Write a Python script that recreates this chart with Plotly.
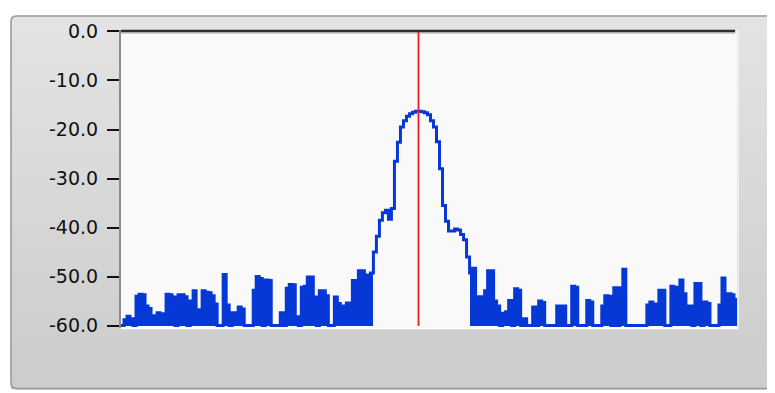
import numpy as np
import plotly.graph_objects as go

# ---- data (dB level per frequency bin) ----
level_db = [
    -60, -58.8, -58.1, -58.6, -60, -54.0, -53.6, -53.7, -56.0, -56.5,
    -58.3, -58.0, -57.4, -57.8, -57.6, -53.6, -53.7, -54.2, -60, -53.7,
    -53.7, -54.1, -60, -55.0, -52.9, -56.8, -57.3, -52.9, -53.2, -53.3,
    -53.9, -55.6, -60, -60, -49.6, -55.8, -60, -57.4, -57.6, -56.2,
    -56.6, -60, -60, -60, -52.8, -50.0, -50.4, -60, -50.7, -50.8,
    -60, -60, -60, -57.4, -60, -52.4, -51.6, -51.7, -58.2, -60,
    -52.2, -52.0, -50.1, -50.1, -54.2, -60, -52.9, -52.9, -53.9, -60,
    -60, -54.2, -55.5, -56.0, -56.3, -55.4, -55.4, -50.8, -52.9, -48.8,
    -48.8, -51.6, -49.7, -49.3, -45.0, -41.8, -38.5, -37.0, -36.5, -38.3,
    -36.1, -26.5, -22.6, -19.5, -18.2, -17.3, -16.8, -16.5, -16.3, -16.3,
    -16.4, -16.6, -17.0, -18.2, -19.5, -22.5, -28.0, -35.5, -38.7, -40.7,
    -40.7, -40.3, -40.5, -41.4, -42.5, -46.0, -49.3, -48.3, -55.5, -54.1,
    -54.1, -52.9, -48.8, -48.8, -55.0, -56.0, -60, -57.5, -57.2, -54.9,
    -60, -52.5, -52.8, -60, -58.6, -60, -60, -56.2, -60, -55.0,
    -55.3, -60, -60, -60, -60, -56.0, -60, -56.0, -60, -60,
    -52.0, -52.2, -60, -60, -60, -54.9, -55.2, -60, -60, -60,
    -56.0, -53.9, -54.0, -60, -52.3, -60, -52.3, -48.5, -60, -60,
    -60, -60, -60, -60, -60, -55.8, -55.2, -55.6, -56.0, -52.8,
    -52.8, -60, -60, -52.0, -52.2, -52.2, -50.7, -53.5, -56.0, -56.0,
    -60, -51.4, -51.4, -60, -55.2, -55.5, -60, -60, -60, -55.8,
    -50.3, -55.3, -53.5, -53.7, -54.7,
]
cursor_bin = 99.0                 # red cursor position (bin)
peak_first, peak_last = 84, 115   # bins of the main lobe (drawn as outline only)
y_ticks = [0, -10, -20, -30, -40, -50, -60]
y_tick_text = ["0.0", "-10.0", "-20.0", "-30.0", "-40.0", "-50.0", "-60.0"]
floor_db = -60

# ---- layout geometry (screen pixels; page body has an 8px margin) ----
OFF = 8
SW, SH = 775, 393
W, H = SW - OFF, SH - OFF
PLOT_L, PLOT_R, PLOT_T, PLOT_B = 121, 737, 21, 328   # screen px
L, T = PLOT_L - OFF, PLOT_T - OFF
R, B = W - (PLOT_R - OFF), H - (PLOT_B - OFF)
PW, PH = W - L - R, H - T - B


def px_x(px):
    return (px - OFF - L) / PW


def px_y(py):
    return (H - B - (py - OFF)) / PH


vals = np.array(level_db, dtype=float)
n = len(vals)
idx = np.arange(n)
is_peak = (idx >= peak_first) & (idx <= peak_last)
bar_h = np.where(is_peak, 0.0, vals - floor_db)

blue = "#0638d6"

fig = go.Figure()
fig.add_trace(go.Bar(
    x=idx + 0.5, y=bar_h, base=floor_db, width=1.0,
    marker=dict(color=blue, line=dict(width=0)),
    hoverinfo="skip", showlegend=False,
))
fig.add_trace(go.Scatter(
    x=np.arange(n + 1), y=np.append(vals, vals[-1]),
    mode="lines", line=dict(color=blue, width=3, shape="hv"),
    showlegend=False,
))

shapes = []
# panel gradient (bands)
top_c, bot_c = np.array([0xe3, 0xe3, 0xe3]), np.array([0xcd, 0xcd, 0xcd])
nb = 16
y_top, y_bot = 6, 391
for k in range(nb):
    c = top_c + (bot_c - top_c) * k / (nb - 1)
    col = "rgb(%d,%d,%d)" % tuple(c.astype(int))
    ya = y_top + (y_bot - y_top) * k / nb
    yb = y_top + (y_bot - y_top) * (k + 1) / nb + 1
    shapes.append(dict(type="rect", xref="paper", yref="paper",
                       x0=px_x(11), x1=px_x(790), y0=px_y(min(yb, y_bot)), y1=px_y(ya),
                       fillcolor=col, line=dict(width=0), layer="below"))
# panel border with rounded left corners
r = 6
x0, x1, ya, yb = 11, 790, 6.5, 390.5
path = (f"M {px_x(x1)} {px_y(ya)} L {px_x(x0 + r)} {px_y(ya)} "
        f"Q {px_x(x0)} {px_y(ya)} {px_x(x0)} {px_y(ya + r)} "
        f"L {px_x(x0)} {px_y(yb - r)} Q {px_x(x0)} {px_y(yb)} {px_x(x0 + r)} {px_y(yb)} "
        f"L {px_x(x1)} {px_y(yb)}")
shapes.append(dict(type="path", xref="paper", yref="paper", path=path,
                   line=dict(color="#9a9a9a", width=1.6), layer="below"))
# plot area background
shapes.append(dict(type="rect", xref="paper", yref="paper",
                   x0=0, x1=1, y0=0, y1=1, fillcolor="#f9f9f9",
                   line=dict(width=0), layer="below"))
# light edges of plot area
shapes.append(dict(type="line", xref="paper", yref="paper",
                   x0=0, x1=1.002, y0=-0.002, y1=-0.002,
                   line=dict(color="#ffffff", width=1.5), layer="above"))
shapes.append(dict(type="line", xref="paper", yref="paper",
                   x0=1.002, x1=1.002, y0=0, y1=1,
                   line=dict(color="#f2f2f2", width=1.5), layer="above"))
# dark top border
shapes.append(dict(type="line", xref="paper", yref="paper",
                   x0=0, x1=0.997, y0=px_y(22), y1=px_y(22),
                   line=dict(color="#2e2e2e", width=2.5), layer="above"))
shapes.append(dict(type="line", xref="paper", yref="paper",
                   x0=0, x1=0.997, y0=px_y(24), y1=px_y(24),
                   line=dict(color="#9a9a9a", width=1), layer="above"))
# cursor
shapes.append(dict(type="line", xref="x", yref="paper",
                   x0=cursor_bin, x1=cursor_bin, y0=px_y(326), y1=px_y(23),
                   line=dict(color="#f01e1e", width=1.8), layer="above"))

fig.update_layout(
    width=W, height=H,
    margin=dict(l=L, r=R, t=T, b=B, pad=0),
    paper_bgcolor="#ffffff",
    plot_bgcolor="rgba(0,0,0,0)",
    bargap=0,
    shapes=shapes,
    showlegend=False,
    xaxis=dict(range=[0, n], showgrid=False, zeroline=False,
               showticklabels=False, ticks="", showline=False),
    yaxis=dict(range=[-60.5, 0.3], showgrid=False, zeroline=False,
               tickvals=y_ticks, ticktext=y_tick_text,
               ticks="outside", ticklen=12, tickwidth=2, tickcolor="#111111",
               ticklabelstandoff=5,
               tickfont=dict(family="DejaVu Sans", size=19, color="#111111"),
               showline=True, linecolor="#8c8c8c", linewidth=2),
)

fig.write_html("out.html")
